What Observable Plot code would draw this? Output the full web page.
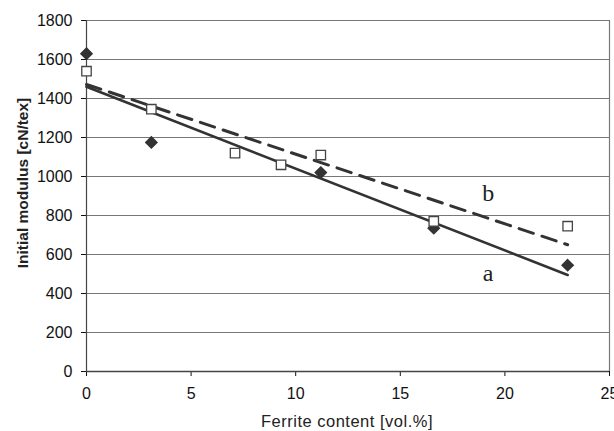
<!DOCTYPE html>
<html><head><meta charset="utf-8">
<script src="https://cdn.jsdelivr.net/npm/d3@7"></script>
<script src="https://cdn.jsdelivr.net/npm/@observablehq/plot@0.6"></script>
<style>body{margin:0;background:#fff;font-family:"Liberation Sans",Arial,sans-serif}</style>
</head><body><div id="chart"></div>
<script>
const xTicks = [0, 5, 10, 15, 20, 25];
const yTicks = [0, 200, 400, 600, 800, 1000, 1200, 1400, 1600, 1800];
const aX = [0, 3.1, 11.2, 16.6, 23];
const aY = [1630, 1175, 1020, 735, 545];
const bX = [0, 3.1, 7.1, 9.3, 11.2, 16.6, 23];
const bY = [1540, 1345, 1120, 1060, 1110, 770, 745];
const fitAX = [0, 23], fitAY = [1460, 495];
const fitBX = [0, 23], fitBY = [1472, 650];
const labels = [{x: 19.2, y: 915, t: "b"}, {x: 19.2, y: 505, t: "a"}];
const xTitle = "Ferrite content [vol.%]";
const yTitle = "Initial modulus [cN/tex]";

const ptsA = aX.map((x, i) => ({x, y: aY[i]}));
const ptsB = bX.map((x, i) => ({x, y: bY[i]}));
const lineA = fitAX.map((x, i) => ({x, y: fitAY[i]}));
const lineB = fitBX.map((x, i) => ({x, y: fitBY[i]}));

const chart = Plot.plot({
  width: 614, height: 431,
  marginLeft: 86, marginRight: 5, marginTop: 20, marginBottom: 60,
  style: {fontFamily: "Liberation Sans, Arial, sans-serif", fontSize: "16px", color: "#111", background: "#fff"},
  x: {domain: [0, 25], ticks: xTicks, tickFormat: d3.format("d"), tickSize: 5, tickPadding: 11, label: null},
  y: {domain: [0, 1800], ticks: yTicks, tickFormat: d3.format("d"), tickSize: 5, tickPadding: 9, label: null},
  marks: [
    Plot.ruleY(yTicks, {stroke: "#777", strokeWidth: 1.2}),
    Plot.ruleX([25], {stroke: "#777", strokeWidth: 1.2}),
    Plot.ruleX([0], {stroke: "#444", strokeWidth: 1.2}),
    Plot.ruleY([0], {stroke: "#444", strokeWidth: 1.5}),
    Plot.line(lineA, {x: "x", y: "y", stroke: "#333", strokeWidth: 2.6}),
    Plot.line(lineB, {x: "x", y: "y", stroke: "#333", strokeWidth: 3, strokeDasharray: "15,9"}),
    Plot.dot(ptsA, {x: "x", y: "y", symbol: "diamond2", r: 5, fill: "#333", stroke: "#333"}),
    Plot.dot(ptsB, {x: "x", y: "y", symbol: "square2", r: 6, fill: "#fff", stroke: "#444", strokeWidth: 1.3}),
    Plot.text(labels, {x: "x", y: "y", text: "t", fontFamily: "Liberation Serif, serif", fontSize: 24, fill: "#222"})
  ]
});
const svg = d3.select(chart);
svg.append("text")
  .attr("x", 347).attr("y", 427)
  .attr("text-anchor", "middle")
  .attr("font-size", 16.5).attr("letter-spacing", "0.5px")
  .attr("fill", "#222").text(xTitle);
svg.append("text")
  .attr("transform", "translate(28,183) rotate(-90)")
  .attr("text-anchor", "middle")
  .attr("font-size", 15.5).attr("font-weight", "bold")
  .attr("fill", "#222").text(yTitle);
document.getElementById("chart").appendChild(chart);
</script></body></html>
